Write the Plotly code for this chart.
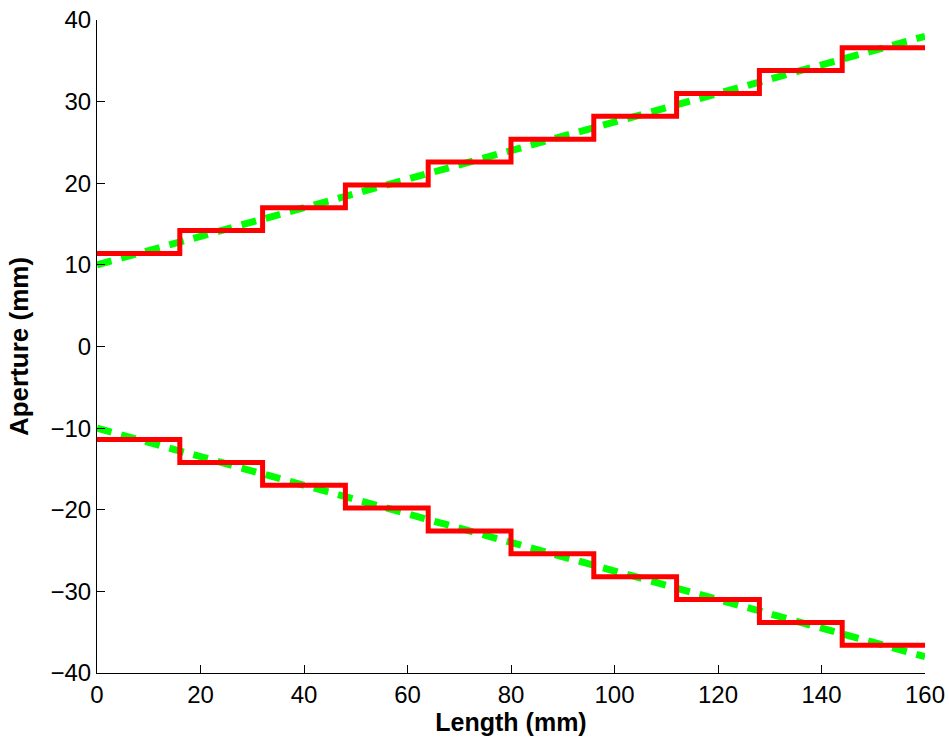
import plotly.graph_objects as go

# Data
cone_x = [0, 160]
cone_upper = [10, 38]
cone_lower = [-10, -38]

step_edges = [0, 16, 32, 48, 64, 80, 96, 112, 128, 144, 160]
step_upper = [11.4, 14.2, 17.0, 19.8, 22.6, 25.4, 28.2, 31.0, 33.8, 36.6]
step_lower = [-11.4, -14.2, -17.0, -19.8, -22.6, -25.4, -28.2, -31.0, -33.8, -36.6]

x_ticks = [0, 20, 40, 60, 80, 100, 120, 140, 160]
y_ticks = [-40, -30, -20, -10, 0, 10, 20, 30, 40]


def steps(edges, vals):
    xs, ys = [], []
    for i, v in enumerate(vals):
        xs += [edges[i], edges[i + 1]]
        ys += [v, v]
    return xs, ys


fig = go.Figure()
for yv in (cone_upper, cone_lower):
    fig.add_trace(go.Scatter(x=cone_x, y=yv, mode="lines",
                             line=dict(color="#00ff00", width=7, dash="15px,10px"),
                             showlegend=False, hoverinfo="skip"))
for vals in (step_upper, step_lower):
    sx, sy = steps(step_edges, vals)
    fig.add_trace(go.Scatter(x=sx, y=sy, mode="lines",
                             line=dict(color="#ff0000", width=5),
                             showlegend=False))

FONT = "Liberation Sans, Arial, Helvetica"
axis_common = dict(showgrid=False, zeroline=False, showline=True, linecolor="black",
                   linewidth=1, ticks="inside", ticklen=8, tickcolor="black",
                   automargin=False,
                   tickfont=dict(family=FONT, size=24, color="black"))

fig.update_layout(
    width=949, height=745,
    margin=dict(l=97, r=24, t=20, b=72),
    plot_bgcolor="white", paper_bgcolor="white",
    xaxis=dict(range=[0, 160], tickvals=x_ticks,
               title=dict(text="<b>Length (mm)</b>", standoff=5,
                          font=dict(family=FONT, size=25, color="black")),
               **axis_common),
    yaxis=dict(range=[-40, 40], tickvals=y_ticks,
               title=dict(text="<b>Aperture (mm)</b>", standoff=14,
                          font=dict(family=FONT, size=26, color="black")),
               **axis_common),
)

fig.write_html("out.html")
